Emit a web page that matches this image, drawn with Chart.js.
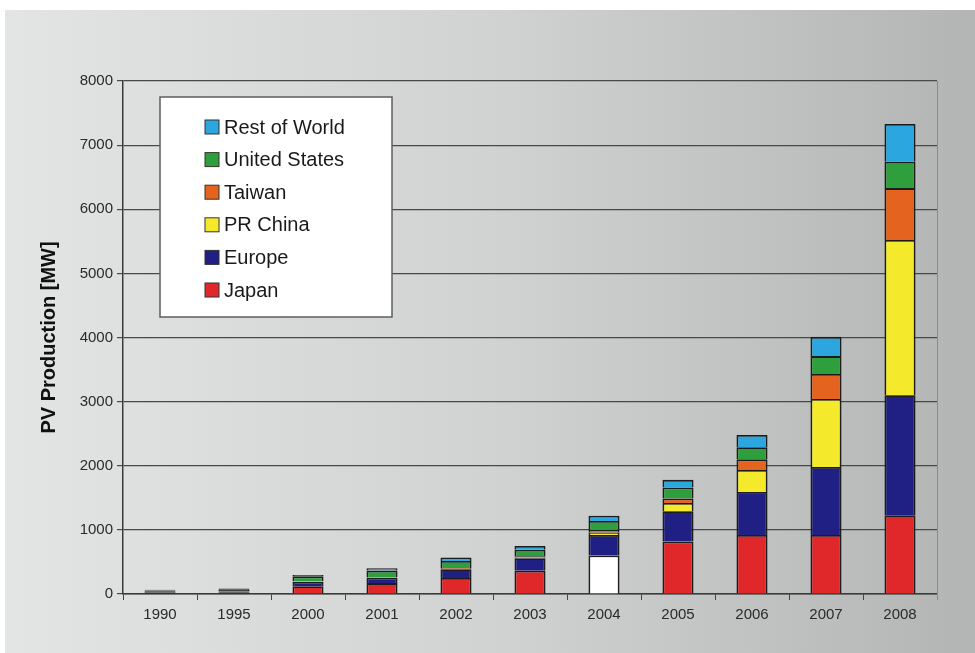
<!DOCTYPE html>
<html>
<head>
<meta charset="utf-8">
<script src="https://cdn.jsdelivr.net/npm/chart.js@4.4.0/dist/chart.umd.min.js"></script>
<style>
  body { margin: 0; background: #fff; }
  canvas { display: block; }
</style>
</head>
<body>
<canvas id="pvChart" width="975" height="653"></canvas>
<script>
// PV production by region, MW
const years = ['1990', '1995', '2000', '2001', '2002', '2003', '2004', '2005', '2006', '2007', '2008'];
const japan = [20, 20, 120, 170, 250, 364, 600, 820, 920, 920, 1230];
const europe = [15, 20, 70, 85, 135, 193, 320, 470, 670, 1060, 1870];
const prChina = [0, 0, 5, 5, 10, 13, 40, 130, 345, 1060, 2420];
const taiwan = [0, 0, 5, 5, 10, 17, 40, 70, 165, 390, 810];
const unitedStates = [20, 35, 75, 100, 110, 103, 140, 170, 190, 280, 410];
const restOfWorld = [10, 10, 20, 35, 55, 60, 80, 120, 190, 300, 590];
const yTicks = [0, 1000, 2000, 3000, 4000, 5000, 6000, 7000, 8000];

const FONT = '"Liberation Sans", Arial, sans-serif';

// 2004 Japan segment is drawn as an empty box in the original
const japanColors = years.map(y => y === '2004' ? '#ffffff' : '#e0272a');

// early years are tiny stacks that read as solid dark blocks
const earlyYears = ['1990', '1995'];
const fillFor = color => years.map(y => earlyYears.includes(y) ? '#1c1c1c' : color);

// grey gradient backdrop behind everything
const backdrop = {
    id: 'backdrop',
    beforeDraw(chart) {
        const { ctx, width, height } = chart;
        ctx.save();
        ctx.fillStyle = '#ffffff';
        ctx.fillRect(0, 0, width, height);
        const g = ctx.createLinearGradient(5, 0, width, 0);
        g.addColorStop(0, '#e3e4e4');
        g.addColorStop(0.5, '#d1d2d2');
        g.addColorStop(1, '#b3b4b4');
        ctx.fillStyle = g;
        ctx.fillRect(5, 10, width - 5, height - 10);
        ctx.restore();
    }
};

// right frame line of the plot
const frame = {
    id: 'frame',
    beforeDatasetsDraw(chart) {
        const { ctx, chartArea } = chart;
        ctx.save();
        ctx.strokeStyle = '#8a8a8a';
        ctx.lineWidth = 1;
        ctx.beginPath();
        ctx.moveTo(chartArea.right + 0.5, chartArea.top);
        ctx.lineTo(chartArea.right + 0.5, chartArea.bottom + 6);
        ctx.stroke();
        ctx.restore();
    }
};

// boxed legend inside the plot, series listed top-down as stacked
const boxLegend = {
    id: 'boxLegend',
    afterDatasetsDraw(chart) {
        const { ctx, chartArea } = chart;
        const x = chartArea.left + 37, y = chartArea.top + 16;
        const w = 232, h = 220;
        ctx.save();
        ctx.fillStyle = '#ffffff';
        ctx.fillRect(x, y, w, h);
        ctx.strokeStyle = '#5e5e5e';
        ctx.lineWidth = 1.5;
        ctx.strokeRect(x, y, w, h);
        const items = chart.data.datasets.slice().reverse();
        ctx.font = '20px ' + FONT;
        ctx.textBaseline = 'middle';
        items.forEach((ds, i) => {
            const cy = y + 30 + i * 32.6;
            ctx.fillStyle = ds.legendColor;
            ctx.fillRect(x + 45, cy - 7, 14, 14);
            ctx.strokeStyle = '#333333';
            ctx.lineWidth = 1;
            ctx.strokeRect(x + 45, cy - 7, 14, 14);
            ctx.fillStyle = '#1a1a1a';
            ctx.fillText(ds.label, x + 64, cy + 1);
        });
        ctx.restore();
    }
};

function makeSet(label, data, color, fills) {
    return {
        label: label,
        data: data,
        legendColor: color,
        backgroundColor: fills || fillFor(color),
        borderColor: '#1c1c1c',
        borderWidth: 1.8,
        barPercentage: 0.42,
        categoryPercentage: 1.0
    };
}

new Chart(document.getElementById('pvChart'), {
    type: 'bar',
    data: {
        labels: years,
        datasets: [
            makeSet('Japan', japan, '#e0272a', japanColors.map((c, i) => earlyYears.includes(years[i]) ? '#1c1c1c' : c)),
            makeSet('Europe', europe, '#1f1f84'),
            makeSet('PR China', prChina, '#f5e92c'),
            makeSet('Taiwan', taiwan, '#e4631f'),
            makeSet('United States', unitedStates, '#2f9e3c'),
            makeSet('Rest of World', restOfWorld, '#2ba6de')
        ]
    },
    options: {
        responsive: false,
        animation: false,
        layout: { padding: { left: 37, top: 81, right: 38, bottom: 0 } },
        plugins: {
            legend: { display: false },
            tooltip: { enabled: false }
        },
        scales: {
            x: {
                stacked: true,
                grid: { drawOnChartArea: false, offset: true, tickLength: 6, color: '#444444' },
                border: { color: '#3a3a3a', width: 1.5 },
                ticks: { color: '#2a2a2a', font: { family: FONT, size: 15 }, padding: 6 },
                afterFit(scale) { scale.height = 59; }
            },
            y: {
                stacked: true,
                min: 0,
                max: 8000,
                afterBuildTicks(scale) { scale.ticks = yTicks.map(v => ({ value: v })); },
                grid: { color: '#484848', lineWidth: 1.2, tickLength: 6 },
                border: { color: '#3a3a3a', width: 1.5 },
                ticks: { color: '#2a2a2a', font: { family: FONT, size: 15 }, padding: 4, callback: v => String(v) },
                title: {
                    display: true,
                    text: 'PV Production [MW]',
                    color: '#111111',
                    font: { family: FONT, size: 20, weight: 'bold' },
                    padding: 0
                },
                afterFit(scale) { scale.width = 86; }
            }
        }
    },
    plugins: [backdrop, frame, boxLegend]
});
</script>
</body>
</html>
